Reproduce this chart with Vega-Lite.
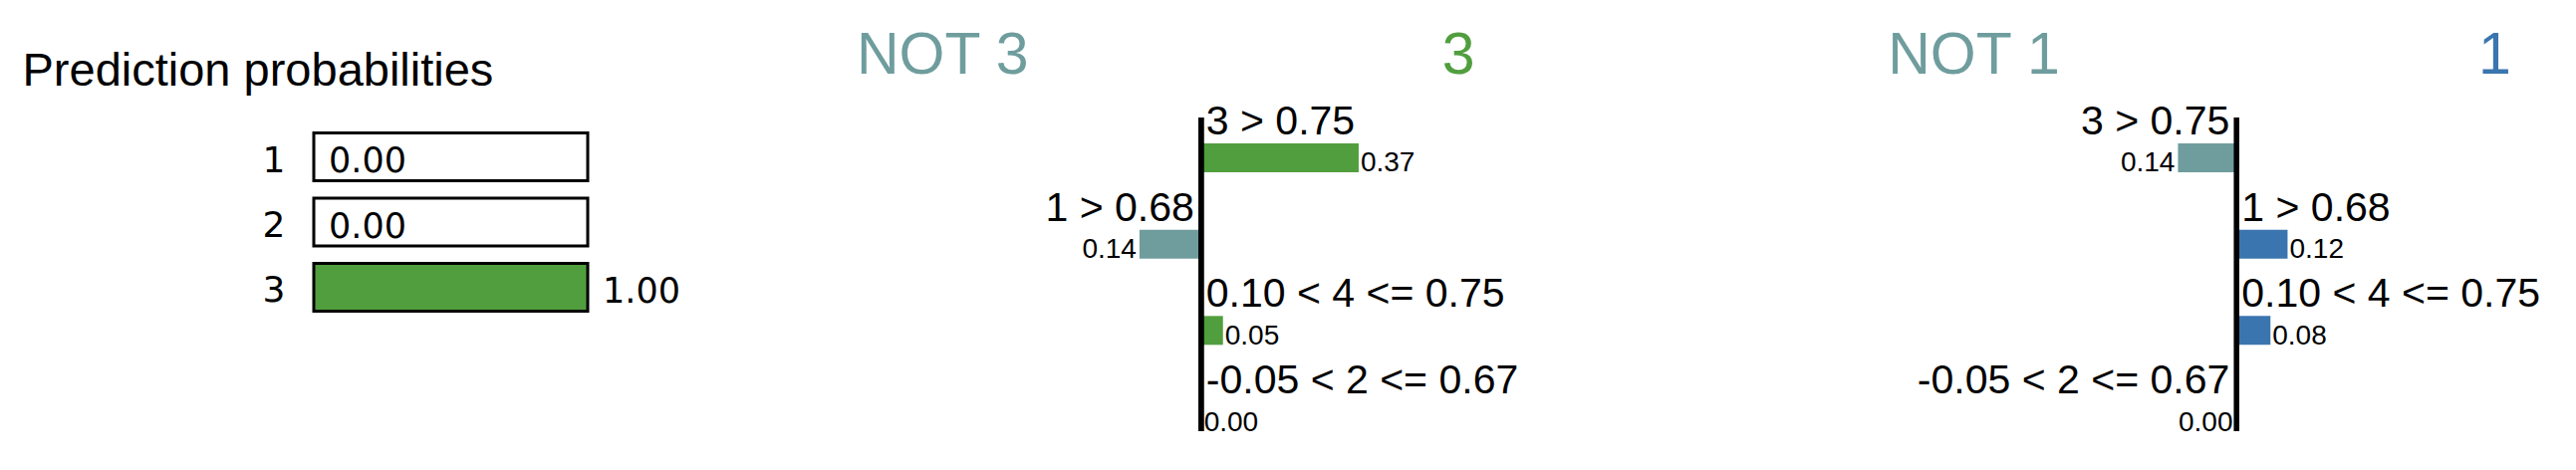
{
  "$schema": "https://vega.github.io/schema/vega-lite/v6.json",
  "background": "white",
  "padding": {"left": 22, "top": 26, "right": 0, "bottom": 0},
  "bounds": "flush",
  "spacing": 355.8,
  "config": {"view": {"stroke": null}},
  "datasets": {
    "probs": [
      {"class": "1", "prob": 0.0},
      {"class": "2", "prob": 0.0},
      {"class": "3", "prob": 1.0}
    ],
    "exp3": [
      {"feature": "3 > 0.75", "weight": 0.368},
      {"feature": "1 > 0.68", "weight": -0.144},
      {"feature": "0.10 < 4 <= 0.75", "weight": 0.051},
      {"feature": "-0.05 < 2 <= 0.67", "weight": 0.002}
    ],
    "exp1": [
      {"feature": "3 > 0.75", "weight": -0.137},
      {"feature": "1 > 0.68", "weight": 0.119},
      {"feature": "0.10 < 4 <= 0.75", "weight": 0.079},
      {"feature": "-0.05 < 2 <= 0.67", "weight": -0.002}
    ]
  },
  "hconcat": [
    {
      "width": 275,
      "height": 210,
      "data": {"name": "probs"},
      "layer": [
        {
          "mark": {"type": "bar"},
          "encoding": {
            "y": {"field": "class", "type": "nominal", "sort": ["1", "2", "3"],
              "scale": {"paddingInner": 0.267, "paddingOuter": 0.2366},
              "axis": {"orient": "left", "title": null, "ticks": false, "tickSize": 0, "domain": false, "grid": false,
                "labelFont": "DejaVu Sans", "labelFontSize": 36, "labelColor": "black", "labelPadding": 29,
                "labelBaseline": "alphabetic", "labelOffset": 15}},
            "x": {"field": "prob", "type": "quantitative", "scale": {"domain": [0, 1]},
              "axis": {"orient": "top", "labels": false, "ticks": false, "tickSize": 0, "domain": false, "grid": false,
                "title": "Prediction probabilities", "titleX": -293, "titleY": -33, "titleAlign": "left",
                "titleBaseline": "alphabetic", "titleAnchor": null, "titleFont": "Liberation Sans",
                "titleFontSize": 47, "titleFontWeight": "normal", "titleColor": "black"}},
            "x2": {"datum": 0},
            "color": {"field": "class", "type": "nominal",
              "scale": {"domain": ["1", "2", "3"], "range": ["#3b75af", "#ef8636", "#519e3e"]}, "legend": null}
          }
        },
        {
          "mark": {"type": "bar", "fill": "white", "fillOpacity": 0, "stroke": "black", "strokeWidth": 3},
          "encoding": {
            "y": {"field": "class", "type": "nominal", "sort": ["1", "2", "3"]},
            "x": {"datum": 1, "type": "quantitative", "scale": {"domain": [0, 1]}},
            "x2": {"datum": 0}
          }
        },
        {
          "mark": {"type": "text", "align": "left", "baseline": "alphabetic", "dx": 15, "dy": 15.5,
            "font": "DejaVu Sans", "fontSize": 35, "color": "black"},
          "encoding": {
            "y": {"field": "class", "type": "nominal", "sort": ["1", "2", "3"]},
            "x": {"field": "prob", "type": "quantitative", "scale": {"domain": [0, 1]}},
            "text": {"field": "prob", "type": "quantitative", "format": ".2f"}
          }
        }
      ]
    },
    {
      "width": 520,
      "height": 315,
      "data": {"name": "exp3"},
      "layer": [
        {
          "mark": {"type": "bar"},
          "encoding": {
            "y": {"field": "feature", "type": "nominal", "axis": null,
              "sort": ["3 > 0.75", "1 > 0.68", "0.10 < 4 <= 0.75", "-0.05 < 2 <= 0.67"],
              "scale": {"paddingInner": 0.6655, "paddingOuter": 0.15, "align": 1}},
            "x": {"field": "weight", "type": "quantitative", "scale": {"domain": [-0.605, 0.605]},
              "axis": {"orient": "top", "values": [-0.605, 0.6], "labelExpr": "datum.value < 0 ? 'NOT 3' : '3'",
                "labelFlush": false, "labelOverlap": false, "labelBound": false, "ticks": false, "tickSize": 0,
                "domain": false, "grid": false, "title": null, "labelFont": "Liberation Sans", "labelFontSize": 59,
                "labelBaseline": "alphabetic", "labelAlign": "center", "labelPadding": 45,
                "labelColor": {"condition": {"test": "datum.value < 0", "value": "#6f9d9e"}, "value": "#519e3e"}}},
            "x2": {"datum": 0},
            "color": {"condition": {"test": "datum.weight > 0", "value": "#519e3e"}, "value": "#6f9d9e"}
          }
        },
        {
          "mark": {"type": "rule", "color": "black", "strokeWidth": 5},
          "encoding": {"x": {"datum": 0, "type": "quantitative", "scale": {"domain": [-0.605, 0.605]}}}
        },
        {
          "transform": [{"filter": "datum.weight > 0"}],
          "mark": {"type": "text", "align": "left", "baseline": "alphabetic", "dx": 5, "dy": -23.5,
            "font": "Liberation Sans", "fontSize": 41, "color": "black"},
          "encoding": {
            "y": {"field": "feature", "type": "nominal", "sort": ["3 > 0.75", "1 > 0.68", "0.10 < 4 <= 0.75", "-0.05 < 2 <= 0.67"]},
            "x": {"datum": 0, "type": "quantitative", "scale": {"domain": [-0.605, 0.605]}},
            "text": {"field": "feature"}
          }
        },
        {
          "transform": [{"filter": "datum.weight <= 0"}],
          "mark": {"type": "text", "align": "right", "baseline": "alphabetic", "dx": -7, "dy": -23.5,
            "font": "Liberation Sans", "fontSize": 41, "color": "black"},
          "encoding": {
            "y": {"field": "feature", "type": "nominal", "sort": ["3 > 0.75", "1 > 0.68", "0.10 < 4 <= 0.75", "-0.05 < 2 <= 0.67"]},
            "x": {"datum": 0, "type": "quantitative", "scale": {"domain": [-0.605, 0.605]}},
            "text": {"field": "feature"}
          }
        },
        {
          "transform": [{"filter": "datum.weight > 0"}],
          "mark": {"type": "text", "align": "left", "baseline": "alphabetic", "dx": 2, "dy": 14,
            "font": "Liberation Sans", "fontSize": 28, "color": "black",
            "text": {"expr": "format(abs(datum.weight), '.2f')"}},
          "encoding": {
            "y": {"field": "feature", "type": "nominal", "sort": ["3 > 0.75", "1 > 0.68", "0.10 < 4 <= 0.75", "-0.05 < 2 <= 0.67"]},
            "x": {"field": "weight", "type": "quantitative", "scale": {"domain": [-0.605, 0.605]}}
          }
        },
        {
          "transform": [{"filter": "datum.weight <= 0"}],
          "mark": {"type": "text", "align": "right", "baseline": "alphabetic", "dx": -3, "dy": 14,
            "font": "Liberation Sans", "fontSize": 28, "color": "black",
            "text": {"expr": "format(abs(datum.weight), '.2f')"}},
          "encoding": {
            "y": {"field": "feature", "type": "nominal", "sort": ["3 > 0.75", "1 > 0.68", "0.10 < 4 <= 0.75", "-0.05 < 2 <= 0.67"]},
            "x": {"field": "weight", "type": "quantitative", "scale": {"domain": [-0.605, 0.605]}}
          }
        }
      ]
    },
    {
      "width": 683.7,
      "height": 315,
      "data": {"name": "exp1"},
      "layer": [
        {
          "mark": {"type": "bar"},
          "encoding": {
            "y": {"field": "feature", "type": "nominal", "axis": null,
              "sort": ["3 > 0.75", "1 > 0.68", "0.10 < 4 <= 0.75", "-0.05 < 2 <= 0.67"],
              "scale": {"paddingInner": 0.6655, "paddingOuter": 0.15, "align": 1}},
            "x": {"field": "weight", "type": "quantitative", "scale": {"domain": [-0.986, 0.605]},
              "axis": {"orient": "top", "values": [-0.615, 0.602], "labelExpr": "datum.value < 0 ? 'NOT 1' : '1'",
                "labelFlush": false, "labelOverlap": false, "labelBound": false, "ticks": false, "tickSize": 0,
                "domain": false, "grid": false, "title": null, "labelFont": "Liberation Sans", "labelFontSize": 59,
                "labelBaseline": "alphabetic", "labelAlign": "center", "labelPadding": 45,
                "labelColor": {"condition": {"test": "datum.value < 0", "value": "#6f9d9e"}, "value": "#3b75af"}}},
            "x2": {"datum": 0},
            "color": {"condition": {"test": "datum.weight > 0", "value": "#3b75af"}, "value": "#6f9d9e"}
          }
        },
        {
          "mark": {"type": "rule", "color": "black", "strokeWidth": 5},
          "encoding": {"x": {"datum": 0, "type": "quantitative", "scale": {"domain": [-0.986, 0.605]}}}
        },
        {
          "transform": [{"filter": "datum.weight > 0"}],
          "mark": {"type": "text", "align": "left", "baseline": "alphabetic", "dx": 5, "dy": -23.5,
            "font": "Liberation Sans", "fontSize": 41, "color": "black"},
          "encoding": {
            "y": {"field": "feature", "type": "nominal", "sort": ["3 > 0.75", "1 > 0.68", "0.10 < 4 <= 0.75", "-0.05 < 2 <= 0.67"]},
            "x": {"datum": 0, "type": "quantitative", "scale": {"domain": [-0.986, 0.605]}},
            "text": {"field": "feature"}
          }
        },
        {
          "transform": [{"filter": "datum.weight <= 0"}],
          "mark": {"type": "text", "align": "right", "baseline": "alphabetic", "dx": -7, "dy": -23.5,
            "font": "Liberation Sans", "fontSize": 41, "color": "black"},
          "encoding": {
            "y": {"field": "feature", "type": "nominal", "sort": ["3 > 0.75", "1 > 0.68", "0.10 < 4 <= 0.75", "-0.05 < 2 <= 0.67"]},
            "x": {"datum": 0, "type": "quantitative", "scale": {"domain": [-0.986, 0.605]}},
            "text": {"field": "feature"}
          }
        },
        {
          "transform": [{"filter": "datum.weight > 0"}],
          "mark": {"type": "text", "align": "left", "baseline": "alphabetic", "dx": 2, "dy": 14,
            "font": "Liberation Sans", "fontSize": 28, "color": "black",
            "text": {"expr": "format(abs(datum.weight), '.2f')"}},
          "encoding": {
            "y": {"field": "feature", "type": "nominal", "sort": ["3 > 0.75", "1 > 0.68", "0.10 < 4 <= 0.75", "-0.05 < 2 <= 0.67"]},
            "x": {"field": "weight", "type": "quantitative", "scale": {"domain": [-0.986, 0.605]}}
          }
        },
        {
          "transform": [{"filter": "datum.weight <= 0"}],
          "mark": {"type": "text", "align": "right", "baseline": "alphabetic", "dx": -3, "dy": 14,
            "font": "Liberation Sans", "fontSize": 28, "color": "black",
            "text": {"expr": "format(abs(datum.weight), '.2f')"}},
          "encoding": {
            "y": {"field": "feature", "type": "nominal", "sort": ["3 > 0.75", "1 > 0.68", "0.10 < 4 <= 0.75", "-0.05 < 2 <= 0.67"]},
            "x": {"field": "weight", "type": "quantitative", "scale": {"domain": [-0.986, 0.605]}}
          }
        }
      ]
    }
  ]
}
